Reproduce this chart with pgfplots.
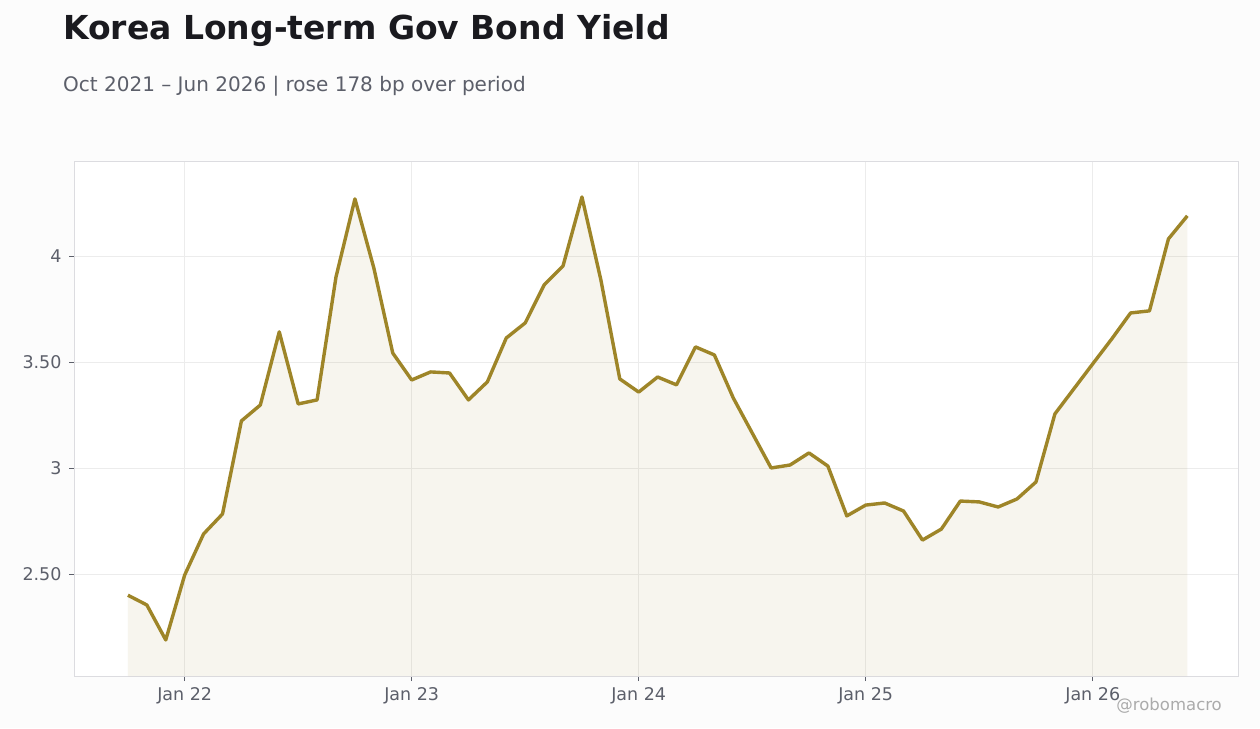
\documentclass[border=0pt]{standalone}
\usepackage{fontspec}
\setmainfont{DejaVu Sans}
\usepackage{pgfplots}
\usepackage{pgfplotstable}
\pgfplotsset{compat=1.18}

\definecolor{gold}{RGB}{158,133,40}
\definecolor{titlec}{RGB}{26,26,31}
\definecolor{subc}{RGB}{92,95,106}
\definecolor{gridc}{RGB}{236,236,236}
\definecolor{framec}{RGB}{220,220,224}

% month index 0 = Oct 2021
\pgfplotstableread{
m y
0 2.400
1 2.354
2 2.189
3 2.495
4 2.689
5 2.783
6 3.222
7 3.297
8 3.642
9 3.302
10 3.321
11 3.901
12 4.269
13 3.943
14 3.542
15 3.415
16 3.453
17 3.448
18 3.321
19 3.406
20 3.613
21 3.684
22 3.863
23 3.953
24 4.278
25 3.887
26 3.420
27 3.358
28 3.429
29 3.392
30 3.571
31 3.533
32 3.330
33 3.165
34 3.000
35 3.014
36 3.071
37 3.009
38 2.774
39 2.825
40 2.835
41 2.797
42 2.660
43 2.712
44 2.844
45 2.840
46 2.816
47 2.854
48 2.934
49 3.255
50 3.373
51 3.491
52 3.608
53 3.731
54 3.741
55 4.080
56 4.189
}\yields

\begin{document}
\begin{tikzpicture}[x=1pt,y=1pt]
\useasboundingbox (0,0) rectangle (1260,728);
\fill[white!98.8!black] (0,0) rectangle (1260,728);
\node[anchor=base west, inner sep=0, text=titlec, font=\fontsize{33}{38}\selectfont\bfseries] at (63,688) {Korea Long-term Gov Bond Yield};
\node[anchor=base west, inner sep=0, text=subc, font=\fontsize{20}{24}\selectfont] at (63,636) {Oct 2021 – Jun 2026 | rose 178 bp over period};
\begin{axis}[
    at={(74pt,52pt)}, anchor=south west,
    scale only axis,
    width=1165pt, height=514pt,
    xmin=-2.85, xmax=58.73,
    ymin=2.019, ymax=4.443,
    axis background/.style={fill=white},
    axis line style={framec, line width=1pt},
    xtick={3,15,27,39,51},
    xticklabels={Jan 22,Jan 23,Jan 24,Jan 25,Jan 26},
    ytick={2.5,3,3.5,4},
    yticklabels={2.50,3,3.50,4},
    xtick pos=bottom, ytick pos=left,
    tick align=outside,
    major tick length=5pt,
    tick style={subc, line width=0.8pt},
    grid=major,
    major grid style={gridc, line width=0.8pt},
    ticklabel style={text=subc, font=\fontsize{17.5}{20}\selectfont},
    xticklabel style={yshift=-3pt},
    yticklabel style={xshift=-4pt},
]
\addplot[draw=none, fill=gold, fill opacity=0.08] table[x=m, y=y] {\yields} \closedcycle;
\addplot[gold, line width=3.4pt, line join=round] table[x=m, y=y] {\yields};
\end{axis}
\node[anchor=base east, inner sep=0, text=black!33, font=\fontsize{16.5}{19}\selectfont] at (1222,18) {@robomacro};
\end{tikzpicture}
\end{document}
